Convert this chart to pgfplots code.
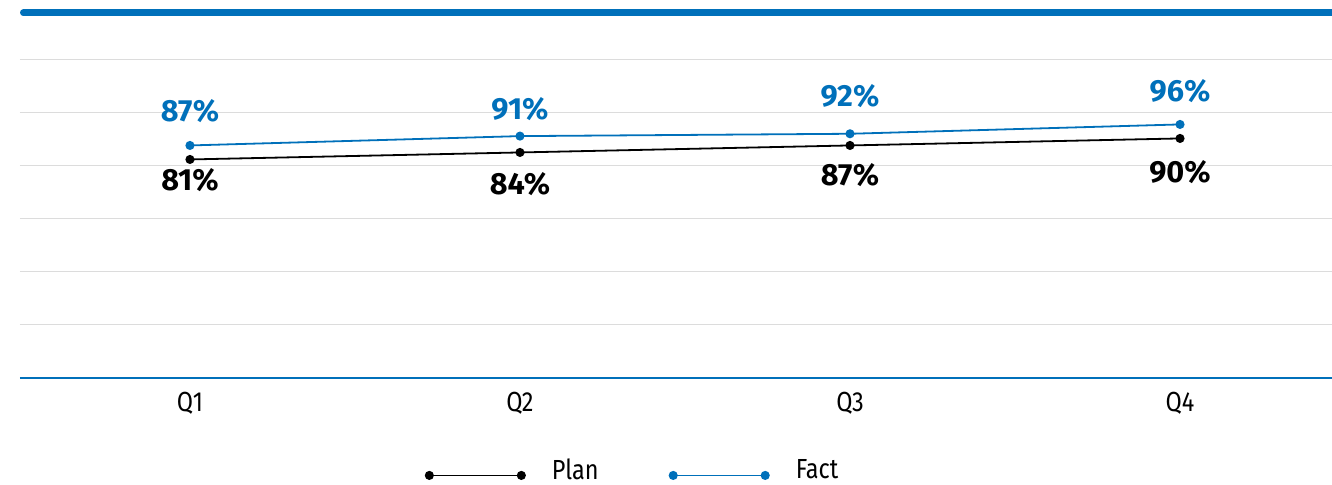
\documentclass[border=0pt]{standalone}
\usepackage{pgfplots}
\usepackage{pgfplotstable}
\pgfplotsset{compat=1.18}
\usepackage{fontspec}
\setmainfont{Fira Sans}
\newfontfamily\condfont{Fira Sans}[FakeStretch=0.85]

\definecolor{corpblue}{HTML}{0070BA}
\definecolor{gridgray}{HTML}{DCDCDC}

% quarter, value, label offset (pt)
\pgfplotstableread{
x y dy
0 81 4.25
1 84 9.75
2 87 8.75
3 90 10.75
}\plantable
\pgfplotstableread{
x y dy
0 87 11.75
1 91 8.5
2 92 13.5
3 96 11.25
}\facttable

\begin{document}
\begin{tikzpicture}
\begin{axis}[
  at={(10pt,53.5pt)}, anchor=south west,
  scale only axis, width=656pt, height=159pt,
  xmin=-0.515, xmax=3.4606,
  ymin=-12.6, ymax=123.6,
  xtick={0,1,2,3},
  xticklabels={Q1,Q2,Q3,Q4},
  ytick={10.1,32.8,55.5,78.2,100.9,123.6},
  yticklabels={},
  ymajorgrids,
  grid style={gridgray, line width=0.5pt},
  axis line style={draw=none},
  major tick style={draw=none},
  /pgf/number format/assume math mode=true,
  x tick label style={font=\condfont\fontsize{13.8}{15}\selectfont, anchor=north, inner sep=0pt, yshift=-7pt},
  clip=false,
  legend style={
    at={(0.4665,-0.2907)}, anchor=center,
    draw=none, fill=none,
    legend columns=2,
    font=\condfont\fontsize{13.8}{15}\selectfont,
    nodes={inner sep=0pt},
    /tikz/every odd column/.append style={column sep=13.5pt},
    /tikz/every even column/.append style={column sep=35.5pt},
  },
  legend image code/.code={
    \draw[mark repeat=1] plot coordinates {(0pt,-2.5pt) (46pt,-2.5pt)};
  },
]
\addplot[black, line width=0.9pt, mark=*, mark size=1.8pt,
  visualization depends on={\thisrow{dy} \as \labdy},
  nodes near coords={\pgfmathprintnumber{\pgfplotspointmeta}\%},
  every node near coord/.append style={anchor=north, inner sep=0pt, yshift=-\labdy pt,
    font=\bfseries\fontsize{15.3}{17}\selectfont, text=black}]
  table[x=x, y=y] {\plantable};
\addlegendentry{Plan}
\addplot[corpblue, line width=0.9pt, mark=*, mark size=1.8pt,
  visualization depends on={\thisrow{dy} \as \labdy},
  nodes near coords={\pgfmathprintnumber{\pgfplotspointmeta}\%},
  every node near coord/.append style={anchor=base, inner sep=0pt, yshift=\labdy pt,
    font=\bfseries\fontsize{15.3}{17}\selectfont, text=corpblue}]
  table[x=x, y=y] {\facttable};
\addlegendentry{Fact}
% baseline of the value axis
\draw[corpblue, line width=1pt] (rel axis cs:0,0) -- (rel axis cs:1,0);
\end{axis}
% header rule
\draw[corpblue, line width=3.3pt, line cap=round] (11.65pt,236.1pt) -- (680pt,236.1pt);
\pgfresetboundingbox
\useasboundingbox (0,0) rectangle (666pt,242.5pt);
\end{tikzpicture}
\end{document}
